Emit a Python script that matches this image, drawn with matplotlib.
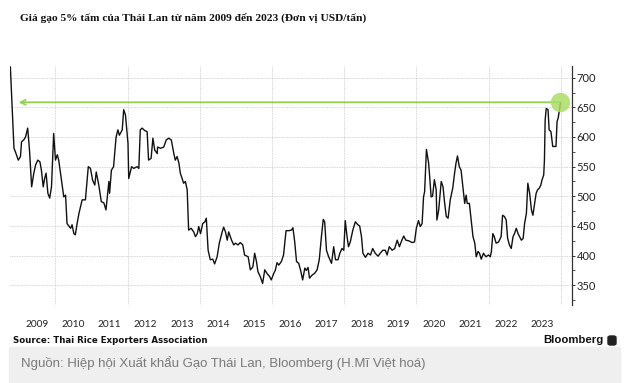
import matplotlib
matplotlib.use("Agg")
import matplotlib.pyplot as plt
from matplotlib.patches import Rectangle, FancyBboxPatch
from matplotlib.ticker import FixedLocator

# Thai 5% broken white rice, USD/tonne
years = [
    2008.75, 2008.85, 2008.89, 2008.97, 2009.03, 2009.06, 2009.12, 2009.17, 2009.23, 2009.28,
    2009.34, 2009.40, 2009.45, 2009.51, 2009.57, 2009.61, 2009.66, 2009.70, 2009.74, 2009.79,
    2009.84, 2009.89, 2009.95, 2010.00, 2010.05, 2010.09, 2010.19, 2010.23, 2010.28, 2010.32,
    2010.42, 2010.46, 2010.51, 2010.55, 2010.60, 2010.65, 2010.74, 2010.83, 2010.91, 2010.97,
    2011.03, 2011.09, 2011.13, 2011.20, 2011.27, 2011.34, 2011.40, 2011.48, 2011.50, 2011.55,
    2011.61, 2011.68, 2011.73, 2011.77, 2011.85, 2011.89, 2011.94, 2012.01, 2012.03, 2012.11,
    2012.17, 2012.26, 2012.31, 2012.35, 2012.40, 2012.47, 2012.54, 2012.58, 2012.65, 2012.70,
    2012.75, 2012.82, 2012.83, 2012.91, 2013.00, 2013.07, 2013.14, 2013.21, 2013.28, 2013.32,
    2013.37, 2013.42, 2013.46, 2013.51, 2013.55, 2013.60, 2013.65, 2013.69, 2013.76, 2013.83,
    2013.88, 2013.93, 2013.97, 2014.02, 2014.08, 2014.14, 2014.18, 2014.23, 2014.29, 2014.36,
    2014.41, 2014.48, 2014.54, 2014.62, 2014.66, 2014.71, 2014.76, 2014.80, 2014.88, 2014.94,
    2014.99, 2015.06, 2015.12, 2015.19, 2015.24, 2015.34, 2015.40, 2015.47, 2015.52, 2015.57,
    2015.61, 2015.68, 2015.74, 2015.80, 2015.86, 2015.93, 2015.98, 2016.05, 2016.09, 2016.14,
    2016.19, 2016.26, 2016.32, 2016.39, 2016.46, 2016.54, 2016.58, 2016.63, 2016.68, 2016.74,
    2016.79, 2016.85, 2016.91, 2016.95, 2017.00, 2017.04, 2017.11, 2017.18, 2017.25, 2017.31,
    2017.37, 2017.42, 2017.46, 2017.51, 2017.57, 2017.65, 2017.71, 2017.76, 2017.83, 2017.88,
    2017.94, 2017.99, 2018.03, 2018.08, 2018.12, 2018.17, 2018.24, 2018.31, 2018.38, 2018.43,
    2018.48, 2018.52, 2018.59, 2018.66, 2018.73, 2018.79, 2018.86, 2018.94, 2019.00, 2019.07,
    2019.14, 2019.19, 2019.25, 2019.33, 2019.40, 2019.47, 2019.53, 2019.60, 2019.65, 2019.71,
    2019.79, 2019.88, 2019.95, 2020.00, 2020.06, 2020.11, 2020.16, 2020.20, 2020.23, 2020.28,
    2020.34, 2020.37, 2020.41, 2020.45, 2020.50, 2020.55, 2020.57, 2020.62, 2020.69, 2020.74,
    2020.78, 2020.83, 2020.88, 2020.94, 2021.01, 2021.06, 2021.10, 2021.14, 2021.19, 2021.24,
    2021.28, 2021.34, 2021.38, 2021.41, 2021.47, 2021.52, 2021.57, 2021.62, 2021.66, 2021.71,
    2021.75, 2021.80, 2021.86, 2021.93, 2022.00, 2022.05, 2022.08, 2022.12, 2022.16, 2022.21,
    2022.28, 2022.35, 2022.39, 2022.44, 2022.49, 2022.53, 2022.58, 2022.63, 2022.68, 2022.72,
    2022.77, 2022.82, 2022.86, 2022.91, 2022.96, 2023.00, 2023.05, 2023.09, 2023.14, 2023.19,
    2023.23, 2023.28, 2023.32, 2023.36, 2023.41, 2023.45, 2023.48, 2023.53, 2023.55, 2023.57,
    2023.60, 2023.65, 2023.68, 2023.73, 2023.78, 2023.82, 2023.87, 2023.90, 2023.93, 2023.96,
    2023.99,
]
prices = [
    718, 581, 575, 561, 567, 592, 595, 600, 615, 578,
    516, 539, 553, 561, 558, 544, 516, 530, 539, 505,
    497, 516, 606, 561, 570, 561, 516, 499, 502, 454,
    446, 452, 437, 435, 454, 471, 494, 494, 550, 547,
    527, 519, 541, 519, 491, 489, 477, 525, 505, 544,
    550, 600, 612, 603, 612, 646, 637, 589, 530, 550,
    547, 550, 547, 612, 615, 611, 609, 561, 564, 598,
    578, 572, 583, 581, 583, 595, 598, 595, 572, 561,
    567, 556, 539, 530, 522, 525, 511, 443, 446, 440,
    432, 437, 449, 437, 454, 457, 463, 409, 393, 394,
    386, 398, 421, 440, 448, 440, 426, 440, 426, 418,
    421, 418, 422, 418, 401, 398, 376, 381, 404, 390,
    373, 364, 353, 376, 370, 365, 359, 370, 375, 388,
    384, 390, 401, 442, 442, 443, 447, 423, 390, 387,
    376, 359, 379, 375, 380, 362, 367, 370, 376, 393,
    432, 461, 457, 409, 398, 387, 415, 393, 393, 404,
    412, 409, 459, 432, 415, 423, 443, 457, 452, 450,
    432, 404, 397, 404, 401, 412, 404, 399, 404, 409,
    409, 401, 415, 409, 412, 426, 415, 426, 433, 426,
    425, 422, 423, 446, 459, 449, 454, 499, 508, 579,
    556, 533, 499, 500, 528, 511, 460, 477, 525, 516,
    491, 466, 463, 494, 514, 539, 556, 568, 550, 544,
    522, 488, 502, 488, 488, 460, 432, 421, 398, 407,
    404, 394, 404, 398, 401, 398, 407, 437, 432, 421,
    423, 432, 468, 466, 460, 429, 418, 412, 432, 437,
    446, 437, 432, 426, 429, 454, 471, 522, 505, 477,
    468, 488, 505, 511, 514, 519, 527, 536, 561, 629,
    648, 646, 612, 609, 584, 584, 584, 626, 632, 643,
    657,
]

label_years = list(range(2009, 2024))
grid_years = list(range(2010, 2025, 2))
y_ticks = list(range(350, 701, 50))
highlight = (2023.99, 658.5)
arrow_end = 2008.98

title = "Giá gạo 5% tấm của Thái Lan từ năm 2009 đến 2023 (Đơn vị USD/tấn)"
source = "Source: Thai Rice Exporters Association"
caption = "Nguồn: Hiệp hội Xuất khẩu Gạo Thái Lan, Bloomberg (H.Mĩ Việt hoá)"

W, H = 626, 383
fig = plt.figure(figsize=(W / 100, H / 100), dpi=100)
fig.patch.set_facecolor("white")
ax = fig.add_axes([10 / W, 1 - 305 / H, 561.5 / W, 239 / H])

green = "#92d050"
ax.annotate("", xy=(arrow_end, highlight[1]), xytext=highlight,
            arrowprops=dict(arrowstyle="->", color=green, lw=1.3,
                            mutation_scale=9, shrinkA=0, shrinkB=0), zorder=3)
ax.plot(years, prices, color="#111111", lw=1.0, zorder=4)
ax.plot(*highlight, "o", ms=14, color="#acdd66", alpha=0.85, mec="none", zorder=5)

ax.set_xlim(2008.74, 2024.3)
ax.set_ylim(316.7, 719.7)

# x: year labels mid-year, dotted grid on every second year start
ax.xaxis.set_major_locator(FixedLocator([y + 0.5 for y in label_years]))
ax.set_xticklabels([str(y) for y in label_years])
ax.xaxis.set_minor_locator(FixedLocator(grid_years))
ax.tick_params(axis="x", which="both", length=0, pad=11, labelsize=7.3, labelcolor="#222222")
ax.grid(axis="x", which="minor", color="#c8c8c8", lw=0.6, ls=(0, (1, 1)))

# y on the right
ax.yaxis.tick_right()
ax.set_yticks(y_ticks)
ax.yaxis.set_minor_locator(FixedLocator([v + 25 for v in range(300, 701, 50)]))
ax.tick_params(axis="y", which="major", length=2.5, width=0.7, pad=1,
               labelsize=8, colors="#333333", labelcolor="#222222")
ax.tick_params(axis="y", which="minor", length=2, width=0.6, colors="#333333")
ax.grid(axis="y", which="major", color="#c8c8c8", lw=0.6, ls=(0, (1, 1)))

for side in ["top", "left", "bottom"]:
    ax.spines[side].set_visible(False)
ax.spines["right"].set_color("#333333")
ax.spines["right"].set_linewidth(0.9)

for lab in ax.get_xticklabels() + ax.get_yticklabels():
    lab.set_family("Lato")

fig.text(20 / W, 1 - 18 / H, title, family="Liberation Serif", weight="bold",
         fontsize=8.2, va="center", ha="left", color="#111111")
fig.text(12.7 / W, 1 - 340.7 / H, source, family="DejaVu Sans", weight="bold",
         fontsize=6.2, va="center", ha="left", color="#111111")
fig.text(603.3 / W, 1 - 340 / H, "Bloomberg", family="Liberation Sans", weight="bold",
         fontsize=8.2, va="center", ha="right", color="#111111")
fig.patches.append(FancyBboxPatch((608 / W, 1 - 345 / H), 8 / W, 9 / H,
                                  boxstyle="round,pad=0,rounding_size=0.004",
                                  transform=fig.transFigure, color="#222222"))

fig.patches.append(Rectangle((9 / W, 0), 611 / W, 36 / H, transform=fig.transFigure,
                             color="#efefef", zorder=0))
fig.text(20.7 / W, 1 - 363.3 / H, caption, family="Liberation Sans",
         fontsize=9.5, va="center", ha="left", color="#7a7a7a")

fig.savefig("out.png", dpi=100)
